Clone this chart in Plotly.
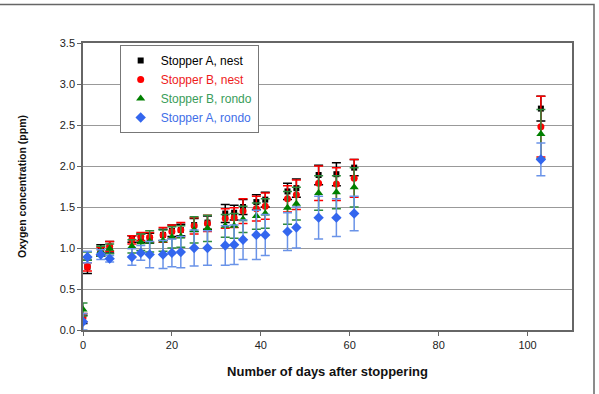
import plotly.graph_objects as go

days = [0, 1, 4, 6, 11, 13, 15, 18, 20, 22, 25, 28, 32, 34, 36, 39, 41, 46, 48, 53, 57, 61, 103]

a_nest = [0.13, 0.77, 0.97, 1.01, 1.11, 1.12, 1.12, 1.16, 1.21, 1.22, 1.28, 1.31, 1.42, 1.43, 1.50, 1.56, 1.59, 1.69, 1.73, 1.89, 1.90, 1.98, 2.70]
a_nest_err = [0.05, 0.08, 0.07, 0.07, 0.04, 0.05, 0.06, 0.07, 0.07, 0.07, 0.08, 0.08, 0.11, 0.09, 0.09, 0.09, 0.09, 0.10, 0.11, 0.12, 0.14, 0.10, 0.15]

b_nest = [0.15, 0.77, 0.96, 1.02, 1.10, 1.14, 1.13, 1.16, 1.20, 1.22, 1.27, 1.30, 1.36, 1.37, 1.45, 1.48, 1.51, 1.60, 1.65, 1.79, 1.78, 1.85, 2.48]
b_nest_err = [0.05, 0.05, 0.05, 0.06, 0.05, 0.05, 0.06, 0.09, 0.08, 0.09, 0.10, 0.10, 0.12, 0.12, 0.15, 0.15, 0.16, 0.16, 0.18, 0.21, 0.20, 0.23, 0.37]

b_rondo = [0.25, 0.90, 0.96, 0.99, 1.02, 1.07, 1.08, 1.09, 1.13, 1.14, 1.22, 1.24, 1.27, 1.27, 1.35, 1.39, 1.42, 1.49, 1.54, 1.67, 1.68, 1.74, 2.39]
b_rondo_err = [0.08, 0.05, 0.06, 0.06, 0.08, 0.10, 0.13, 0.13, 0.13, 0.13, 0.16, 0.16, 0.14, 0.15, 0.16, 0.16, 0.18, 0.20, 0.20, 0.21, 0.20, 0.24, 0.30]

a_rondo = [0.10, 0.89, 0.92, 0.87, 0.89, 0.94, 0.92, 0.92, 0.94, 0.95, 1.00, 1.00, 1.03, 1.04, 1.10, 1.16, 1.16, 1.20, 1.25, 1.37, 1.37, 1.42, 2.08]
a_rondo_err = [0.10, 0.07, 0.06, 0.04, 0.10, 0.09, 0.16, 0.17, 0.17, 0.19, 0.22, 0.21, 0.24, 0.24, 0.24, 0.30, 0.25, 0.23, 0.25, 0.26, 0.23, 0.21, 0.20]

series = [
    ("Stopper A, nest", a_nest, a_nest_err, "#000000", "#000000", "square", 6, "#000000"),
    ("Stopper B, nest", b_nest, b_nest_err, "#ff0000", "#ff0000", "circle", 7, "#ee1c1c"),
    ("Stopper B, rondo", b_rondo, b_rondo_err, "#008000", "#2e8b3e", "triangle-up", 8, "#3a9d5a"),
    ("Stopper A, rondo", a_rondo, a_rondo_err, "#3366ee", "#6a93e8", "diamond", 8, "#3f6fe8"),
]

fig = go.Figure()
for name, vals, errs, mcol, ecol, sym, sz, tcol in series:
    fig.add_trace(go.Scatter(
        x=days, y=vals, mode="markers",
        name=f"<span style='color:{tcol}'>{name}</span>",
        marker=dict(color=mcol, symbol=sym, size=sz, line=dict(width=0)),
        error_y=dict(type="data", array=errs, visible=True, color=ecol, thickness=1.5, width=4.5),
    ))

fig.update_layout(
    width=599, height=394,
    margin=dict(l=83, r=27, t=43, b=64),
    paper_bgcolor="white", plot_bgcolor="white",
    font=dict(family="Liberation Sans, Arial, sans-serif", size=11, color="#222"),
    showlegend=True,
    legend=dict(
        x=0.075, y=0.993, xanchor="left", yanchor="top",
        bgcolor="white", bordercolor="#777", borderwidth=1,
        font=dict(size=12), tracegroupgap=0, itemwidth=30,
    ),
    xaxis=dict(
        range=[0, 110], tickvals=[0, 20, 40, 60, 80, 100],
        showgrid=False, zeroline=False,
        showline=True, linecolor="#666", linewidth=1.5, mirror=True,
        ticks="outside", ticklen=4, tickcolor="#666",
        title=dict(text="<b>Number of days after stoppering</b>", font=dict(size=13, color="#111"), standoff=17),
    ),
    yaxis=dict(
        range=[0, 3.5], tickvals=[0, 0.5, 1, 1.5, 2, 2.5, 3, 3.5], tickformat=".1f",
        showgrid=True, gridcolor="#999", gridwidth=1, zeroline=False,
        showline=True, linecolor="#666", linewidth=1.5, mirror=True,
        ticks="outside", ticklen=4, tickcolor="#666",
        title=dict(text="<b>Oxygen concentration (ppm)</b>", font=dict(size=10.5, color="#111"), standoff=31),
    ),
    shapes=[dict(type="rect", xref="paper", yref="paper",
                 x0=-0.2, x1=1.045, y0=-0.3, y1=1.134,
                 line=dict(color="#666", width=1.5), layer="below")],
)

fig.write_html("out.html")
